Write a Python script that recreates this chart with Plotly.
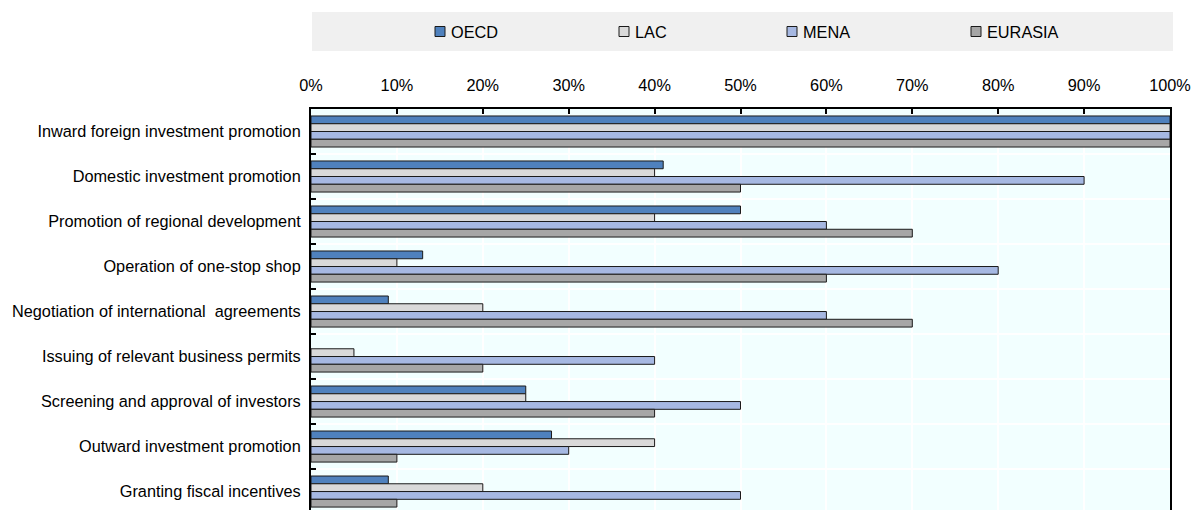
import plotly.graph_objects as go

# Functions carried out by investment promotion agencies, share by region
categories = [
    "Inward foreign investment promotion",
    "Domestic investment promotion",
    "Promotion of regional development",
    "Operation of one-stop shop",
    "Negotiation of international  agreements",
    "Issuing of relevant business permits",
    "Screening and approval of investors",
    "Outward investment promotion",
    "Granting fiscal incentives",
]
oecd = [100, 41, 50, 13, 9, 0, 25, 28, 9]
lac = [100, 40, 40, 10, 20, 5, 25, 40, 20]
mena = [100, 90, 60, 80, 60, 40, 50, 30, 50]
eurasia = [100, 50, 70, 60, 70, 20, 40, 10, 10]
x_ticks = [0, 10, 20, 30, 40, 50, 60, 70, 80, 90, 100]
x_tick_labels = [f"{v}%" for v in x_ticks]

series = [
    ("OECD", oecd, "#4F81BD"),
    ("LAC", lac, "#D9D9D9"),
    ("MENA", mena, "#A6B8E2"),
    ("EURASIA", eurasia, "#A6A6A6"),
]

FONT = "Liberation Sans Narrow, Arial Narrow, Liberation Sans, Arial, sans-serif"
FS = 16.3
W, H = 1193, 510
L, R, T, B = 311, 23, 109, 0
PW, PH = W - L - R, H - T - B


def px_x(px):
    return (px - L) / PW


def px_y(py):
    return (H - B - py) / PH


fig = go.Figure()
for name, vals, color in series:
    # no outline on empty bars so a zero share leaves no sliver
    outline = [0 if v == 0 else 1 for v in vals]
    fig.add_trace(go.Bar(
        y=categories, x=vals, name=name, orientation="h",
        marker=dict(color=color, line=dict(color="#1a1a1a", width=outline)),
        showlegend=False,
    ))

# Legend band drawn across the top of the chart
shapes = [dict(type="rect", xref="paper", yref="paper",
               x0=px_x(312), x1=px_x(1173), y0=px_y(51), y1=px_y(12),
               fillcolor="#F0F0F0", line=dict(width=0), layer="below")]
annotations = []
legend_x = [435, 619, 787, 971]
for (name, _, color), lx in zip(series, legend_x):
    shapes.append(dict(type="rect", xref="paper", yref="paper",
                       x0=px_x(lx), x1=px_x(lx + 10), y0=px_y(36.5), y1=px_y(26.5),
                       fillcolor=color, line=dict(color="#1a1a1a", width=1)))
    annotations.append(dict(xref="paper", yref="paper", x=px_x(lx + 14), y=px_y(31.5),
                            xanchor="left", yanchor="middle", text=name, showarrow=False,
                            font=dict(family=FONT, size=FS, color="#000000")))

fig.update_layout(
    width=W, height=H,
    margin=dict(l=L, r=R, t=T, b=B, pad=0, autoexpand=False),
    paper_bgcolor="#FFFFFF",
    plot_bgcolor="#F2FFFF",
    barmode="group", bargap=0.31, bargroupgap=0,
    font=dict(family=FONT, size=FS, color="#000000"),
    shapes=shapes, annotations=annotations,
    xaxis=dict(
        side="top", range=[0, 100.0001], tickvals=x_ticks, ticktext=x_tick_labels,
        showgrid=True, gridcolor="#FFFFFF", gridwidth=2,
        showline=True, linecolor="#000000", linewidth=2,
        ticks="inside", ticklen=5, tickcolor="#000000", tickwidth=1.5,
        ticklabelstandoff=9, ticklabeloverflow="allow", zeroline=False,
        automargin=False, fixedrange=True,
    ),
    yaxis=dict(
        range=[8.41, -0.5], type="category",
        tickson="boundaries", ticks="inside", ticklen=5, tickcolor="#000000", tickwidth=1.5,
        showgrid=True, gridcolor="#FFFFFF", gridwidth=2,
        showline=True, linecolor="#000000", linewidth=2, mirror=True,
        ticklabelstandoff=5, automargin=False, fixedrange=True,
    ),
)

fig.write_html("out.html", config={"displayModeBar": False})
